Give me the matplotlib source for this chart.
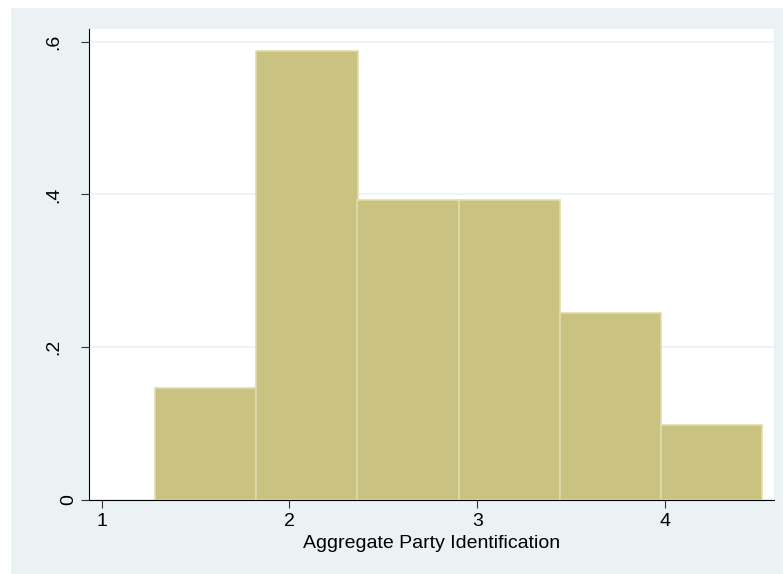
import matplotlib.pyplot as plt
from matplotlib.patches import Rectangle
from matplotlib.transforms import ScaledTranslation

plt.rcParams['font.family'] = ['Liberation Sans', 'DejaVu Sans']

# histogram bins (left edges) and density heights
bin_left = [1.285, 1.824, 2.362, 2.901, 3.440, 3.978]
bin_width = 0.5387
density = [0.147, 0.588, 0.392, 0.392, 0.245, 0.098]
yticks = [0, 0.2, 0.4, 0.6]
ytick_labels = ['0', '.2', '.4', '.6']
xticks = [1, 2, 3, 4]

W, H = 783, 574
fig = plt.figure(figsize=(W / 100, H / 100), dpi=100)
fig.patch.set_facecolor('#eaf2f3')
# thin white strips at the left and top edge of the image
fig.patches.append(Rectangle((0, 0), 11 / W, 1, transform=fig.transFigure,
                             facecolor='white', edgecolor='none'))
fig.patches.append(Rectangle((0, 1 - 8 / H), 1, 8 / H, transform=fig.transFigure,
                             facecolor='white', edgecolor='none'))

ax = fig.add_axes([89.3 / W, 1 - 500 / H, (774 - 89.3) / W, (500 - 29.3) / H])
ax.set_facecolor('white')

ax.bar(bin_left, density, width=bin_width, align='edge',
       color='#c9c281', edgecolor='#e0dbaa', linewidth=1.2, zorder=2)

ax.set_xlim(0.934, 4.58)
ax.set_ylim(0, 0.616)
ax.set_yticks(yticks)
ax.set_yticklabels(ytick_labels, rotation=90, va='center')
ax.set_xticks(xticks)
ax.grid(axis='y', color='#eaf2f3', linewidth=1.2, zorder=0)
ax.spines['top'].set_visible(False)
ax.spines['right'].set_visible(False)
ax.tick_params(axis='both', labelsize=14, length=5.8, width=0.8, color='#333333')
ax.tick_params(axis='y', pad=14)
ax.tick_params(axis='x', pad=3.6)
ax.set_xlabel('Aggregate Party Identification', fontsize=14, labelpad=3.5)

# the "0" label sits further right in the original
zero = ax.get_yticklabels()[0]
zero.set_transform(zero.get_transform() + ScaledTranslation(0.15, 0, fig.dpi_scale_trans))

fig.savefig('out.png', dpi=100)
